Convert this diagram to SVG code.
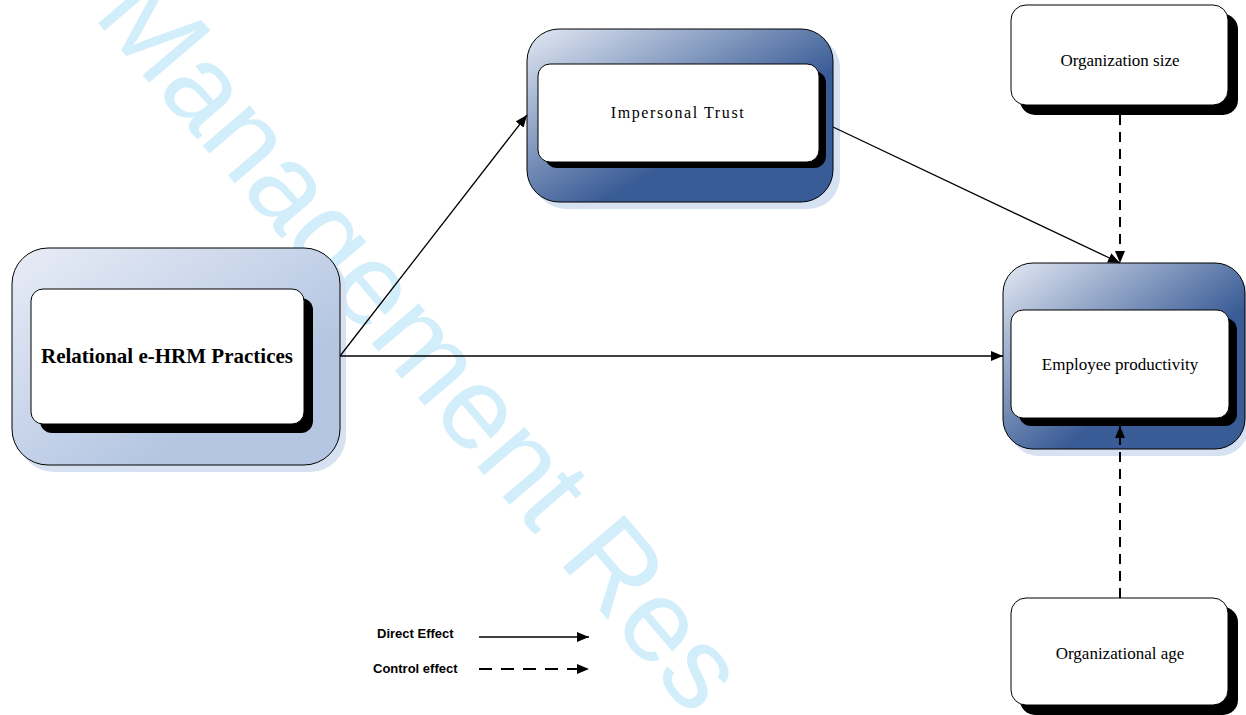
<svg xmlns="http://www.w3.org/2000/svg" width="1246" height="715" viewBox="0 0 1246 715">
<defs>
<linearGradient id="gLight" x1="0" y1="0" x2="0.7" y2="0.7">
<stop offset="0" stop-color="#e8ecf6"/>
<stop offset="1" stop-color="#b4c6e2"/>
</linearGradient>
<linearGradient id="gDark" x1="0" y1="0" x2="0.62" y2="0.62">
<stop offset="0" stop-color="#e3e9f4"/>
<stop offset="1" stop-color="#3a5c96"/>
</linearGradient>
<marker id="ah" viewBox="0 0 12 10" refX="12" refY="5" markerWidth="12" markerHeight="10" markerUnits="userSpaceOnUse" orient="auto">
<path d="M0,0 L12,5 L0,10 Z" fill="#000"/>
</marker>
<style>
.outer{stroke:#000;stroke-width:1}
.oshadow{fill:#d6e1f1}
.inner{fill:#fff;stroke:#000;stroke-width:1}
.ishadow{fill:#000}
.lbl{font-family:"Liberation Serif","Times New Roman",serif;fill:#000;text-anchor:middle}
.leg{font-family:"Liberation Sans",Arial,sans-serif;font-weight:bold;font-size:13px;fill:#000}
.solid{stroke:#000;stroke-width:1.3;fill:none;marker-end:url(#ah)}
.dash{stroke:#000;stroke-width:2;fill:none;stroke-dasharray:10 7;marker-end:url(#ah)}
.wm{font-family:"Liberation Sans",Arial,sans-serif;font-size:117px;fill:#d3eefb}
</style>
</defs>
<rect width="1246" height="715" fill="#fff"/>
<text class="wm" transform="translate(92,16) rotate(49.5)">Management Res</text>

<g id="node-relational">
<rect class="oshadow" x="18" y="254" width="328" height="218" rx="36"/>
<rect class="outer" x="12" y="248" width="328" height="217" rx="36" fill="url(#gLight)"/>
<rect class="ishadow" x="40" y="298" width="273" height="135" rx="12"/>
<rect class="inner" x="31" y="289" width="273" height="135" rx="12"/>
<text class="lbl" x="167" y="363" font-size="21" font-weight="bold">Relational e-HRM Practices</text>
</g>

<g id="node-trust">
<rect class="oshadow" x="534" y="36" width="306" height="173" rx="32"/>
<rect class="outer" x="527" y="29" width="306" height="173" rx="32" fill="url(#gDark)"/>
<rect class="ishadow" x="545" y="71" width="281" height="97" rx="12"/>
<rect class="inner" x="538" y="64" width="281" height="98" rx="12"/>
<text class="lbl" x="678" y="118" font-size="16" letter-spacing="1.6">Impersonal Trust</text>
</g>

<g id="node-productivity">
<rect class="oshadow" x="1009" y="269" width="240" height="187" rx="30"/>
<rect class="outer" x="1003" y="263" width="242" height="186" rx="30" fill="url(#gDark)"/>
<rect class="ishadow" x="1019" y="318" width="218" height="108" rx="12"/>
<rect class="inner" x="1011" y="310" width="218" height="108" rx="12"/>
<text class="lbl" x="1120" y="370" font-size="17">Employee productivity</text>
</g>

<g id="node-size">
<rect class="ishadow" x="1020" y="14" width="218" height="101" rx="15"/>
<rect class="inner" x="1011" y="5" width="217" height="100" rx="15"/>
<text class="lbl" x="1120" y="66" font-size="17">Organization size</text>
</g>

<g id="node-age">
<rect class="ishadow" x="1020" y="607" width="218" height="108" rx="15"/>
<rect class="inner" x="1011" y="598" width="217" height="107" rx="15"/>
<text class="lbl" x="1120" y="659" font-size="17">Organizational age</text>
</g>

<g id="connectors">
<line class="solid" x1="340" y1="356" x2="527" y2="115"/>
<line class="solid" x1="340" y1="356" x2="1003" y2="356"/>
<line class="solid" x1="833" y1="127" x2="1120" y2="263"/>
<line class="dash" x1="1120" y1="115" x2="1120" y2="263"/>
<line class="dash" x1="1120" y1="598" x2="1120" y2="426"/>
</g>

<g id="legend">
<text class="leg" x="377" y="638">Direct Effect</text>
<line class="solid" x1="479" y1="637" x2="589" y2="637"/>
<text class="leg" x="373" y="673">Control effect</text>
<line class="dash" x1="479" y1="669" x2="589" y2="669" style="stroke-dasharray:13 9"/>
</g>
</svg>
